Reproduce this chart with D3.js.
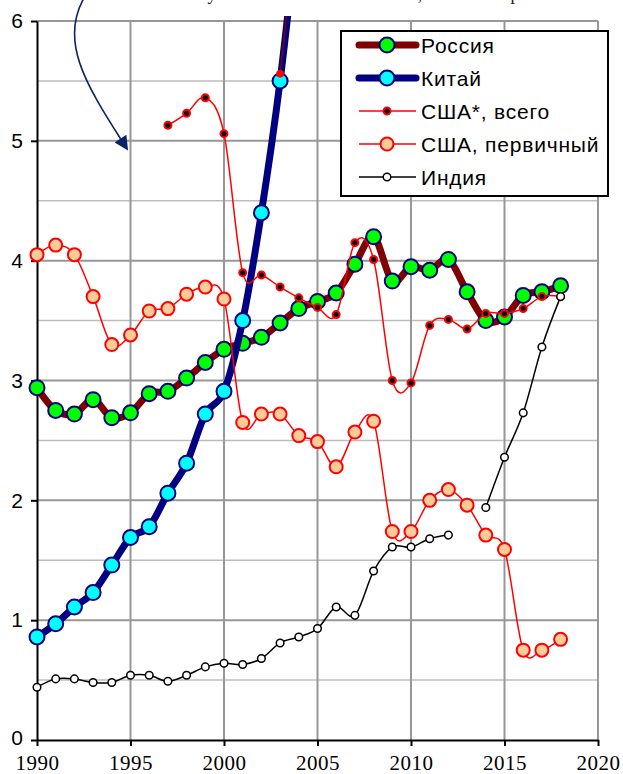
<!DOCTYPE html>
<html>
<head>
<meta charset="utf-8">
<script src="https://cdn.jsdelivr.net/npm/d3@7"></script>
<style>
  body { margin: 0; background: #fff; }
  svg { display: block; }
</style>
</head>
<body>
<svg></svg>
<script>
// years on the category axis
var years = [1990, 1991, 1992, 1993, 1994, 1995, 1996, 1997, 1998, 1999,
             2000, 2001, 2002, 2003, 2004, 2005, 2006, 2007, 2008, 2009,
             2010, 2011, 2012, 2013, 2014, 2015, 2016, 2017, 2018];

var russia = [2.94, 2.75, 2.72, 2.84, 2.69, 2.73, 2.89, 2.91, 3.02, 3.15,
              3.26, 3.31, 3.36, 3.48, 3.60, 3.66, 3.73, 3.97, 4.20, 3.83,
              3.95, 3.92, 4.01, 3.74, 3.50, 3.53, 3.71, 3.74, 3.79];

// China runs off the top of the chart after 2003
var china = [0.86, 0.97, 1.11, 1.23, 1.46, 1.69, 1.78, 2.06, 2.31, 2.72,
             2.91, 3.50, 4.40, 5.50, 6.90, null, null, null, null, null,
             null, null, null, null, null, null, null, null, null];

var chinaOld = [null, null, null, null, null, null, null, null, null, null,
                null, null, null, 5.56, 6.95, null, null, null, null, null,
                null, null, null, null, null, null, null, null, null];

var usaTotal = [null, null, null, null, null, null, null, 5.13, 5.23, 5.36,
                5.06, 3.90, 3.88, 3.78, 3.69, 3.61, 3.55, 4.15, 4.01, 3.00,
                2.98, 3.46, 3.51, 3.43, 3.56, 3.56, 3.60, 3.70, 3.70];

var usaPrimary = [4.05, 4.13, 4.05, 3.70, 3.30, 3.38, 3.58, 3.60, 3.72, 3.78,
                  3.68, 2.65, 2.72, 2.72, 2.54, 2.49, 2.28, 2.57, 2.66, 1.74,
                  1.74, 2.00, 2.09, 1.96, 1.71, 1.59, 0.75, 0.75, 0.84];

var india = [0.44, 0.51, 0.51, 0.48, 0.48, 0.54, 0.54, 0.49, 0.54, 0.61,
             0.64, 0.63, 0.68, 0.81, 0.86, 0.93, 1.11, 1.04, 1.41, 1.61,
             1.61, 1.68, 1.71, null, 1.94, 2.36, 2.73, 3.28, 3.70];

var xTicks = [1990, 1995, 2000, 2005, 2010, 2015, 2020];
var yTicks = [0, 1, 2, 3, 4, 5, 6];
var yMinor = [0.5, 1.5, 2.5, 3.5, 4.5, 5.5];

var legendNames = ["Россия", "Китай", "США*, всего", "США, первичный", "Индия"];

var width = 623, height = 774;
var padLeft = 37, padRight = 598, padTop = 21, padBottom = 740;

var svg = d3.select("svg")
    .attr("width", width)
    .attr("height", height);

var xScale = d3.scaleLinear().domain([1990, 2020]).range([padLeft, padRight]);
var yScale = d3.scaleLinear().domain([0, 6]).range([padBottom, padTop]);

// grid
svg.append("g").selectAll("line")
    .data(yMinor)
    .enter().append("line")
    .attr("x1", padLeft).attr("x2", padRight)
    .attr("y1", d => yScale(d)).attr("y2", d => yScale(d))
    .attr("stroke", "#bcbcbc").attr("stroke-width", 1.5);

svg.append("g").selectAll("line")
    .data(yTicks.slice(1))
    .enter().append("line")
    .attr("x1", padLeft).attr("x2", padRight)
    .attr("y1", d => yScale(d)).attr("y2", d => yScale(d))
    .attr("stroke", "#979797").attr("stroke-width", 2);

svg.append("g").selectAll("line")
    .data(xTicks.slice(1))
    .enter().append("line")
    .attr("x1", d => xScale(d)).attr("x2", d => xScale(d))
    .attr("y1", padTop).attr("y2", padBottom)
    .attr("stroke", "#979797").attr("stroke-width", 2);

// axes
var xAxis = d3.axisBottom(xScale).tickValues(xTicks).tickFormat(d3.format("d"))
    .tickSizeInner(6).tickSizeOuter(0).tickPadding(9);
var gx = svg.append("g")
    .attr("transform", `translate(0,${padBottom})`)
    .call(xAxis);
gx.select(".domain").attr("stroke", "#000").attr("stroke-width", 2);
gx.selectAll(".tick line").attr("stroke", "#000").attr("stroke-width", 2);
gx.selectAll("text")
    .style("font-family", '"Liberation Serif", "Times New Roman", serif')
    .style("font-size", "21px")
    .style("letter-spacing", "0.5px")
    .attr("fill", "#000");

var yAxis = d3.axisLeft(yScale).tickValues(yTicks).tickFormat(d3.format("d"))
    .tickSizeInner(6).tickSizeOuter(0).tickPadding(8);
var gy = svg.append("g")
    .attr("transform", `translate(${padLeft},0)`)
    .call(yAxis);
gy.select(".domain").attr("stroke", "#000").attr("stroke-width", 2);
gy.selectAll(".tick line").attr("stroke", "#000").attr("stroke-width", 2);
gy.selectAll("text")
    .style("font-family", '"Liberation Sans", Arial, sans-serif')
    .style("font-size", "21px")
    .attr("fill", "#000");
// lift the zero label a little so it clears the year labels
gy.selectAll(".tick").filter(d => d === 0).select("text").attr("dy", "0.2em");

// clip for the lines that leave the plot
svg.append("clipPath").attr("id", "plot")
  .append("rect")
    .attr("x", padLeft - 10).attr("y", padTop - 5)
    .attr("width", padRight - padLeft + 20).attr("height", padBottom - padTop + 15);

var series = [
    {values: russia, line: "#800000", lw: 7, fill: "#00ff00", stroke: "#000080", sw: 2, r: 7.5},
    {values: china, line: "#000080", lw: 7, fill: "#00ffff", stroke: "#000080", sw: 2, r: 7.5},
    {values: chinaOld, line: "#800000", lw: 1.5, fill: "#ff0000", stroke: "#ff0000", sw: 1, r: 3.5},
    {values: usaTotal, line: "#ff0000", lw: 1.5, fill: "#000", stroke: "#ff0000", sw: 2, r: 3.5},
    {values: usaPrimary, line: "#ff0000", lw: 1.5, fill: "#ffcc99", stroke: "#ff0000", sw: 2, r: 6.5},
    {values: india, line: "#000000", lw: 1.5, fill: "#fff", stroke: "#000", sw: 1.5, r: 3.8}
];

var line = d3.line()
    .defined(d => d.v != null)
    .x(d => xScale(d.year))
    .y(d => yScale(d.v))
    .curve(d3.curveCatmullRom.alpha(0));

var plot = svg.append("g").attr("clip-path", "url(#plot)");

series.forEach(function(s) {
    var pts = years.map((y, i) => ({year: y, v: s.values[i]}));
    plot.append("path")
        .datum(pts)
        .attr("d", line)
        .attr("fill", "none")
        .attr("stroke", s.line)
        .attr("stroke-width", s.lw)
        .attr("stroke-linejoin", "round");
    plot.selectAll(null)
        .data(pts.filter(d => d.v != null && d.v <= 6))
        .enter().append("circle")
        .attr("cx", d => xScale(d.year))
        .attr("cy", d => yScale(d.v))
        .attr("r", s.r)
        .attr("fill", s.fill)
        .attr("stroke", s.stroke)
        .attr("stroke-width", s.sw);
});

// legend
var legendSeries = [series[0], series[1], series[3], series[4], series[5]];
svg.append("rect")
    .attr("x", 341).attr("y", 31)
    .attr("width", 267).attr("height", 165)
    .attr("fill", "#fff").attr("stroke", "#000").attr("stroke-width", 2);

var lg = svg.append("g").selectAll("g")
    .data(legendNames)
    .enter().append("g")
    .attr("transform", (d, i) => `translate(0,${45 + i * 33})`);
lg.append("line")
    .attr("x1", 359).attr("x2", 416)
    .attr("stroke", (d, i) => legendSeries[i].line)
    .attr("stroke-width", (d, i) => legendSeries[i].lw)
    .attr("stroke-linecap", (d, i) => legendSeries[i].lw > 3 ? "round" : "butt");
lg.append("circle")
    .attr("cx", 387)
    .attr("r", (d, i) => legendSeries[i].r)
    .attr("fill", (d, i) => legendSeries[i].fill)
    .attr("stroke", (d, i) => legendSeries[i].stroke)
    .attr("stroke-width", (d, i) => legendSeries[i].sw);
lg.append("text")
    .attr("x", 421).attr("dy", "0.36em")
    .style("font-family", '"Liberation Sans", Arial, sans-serif')
    .style("font-size", "21px")
    .style("letter-spacing", "0.8px")
    .text(d => d);

// curved arrow pointing at the chart
var defs = svg.append("defs");
defs.append("marker")
    .attr("id", "head")
    .attr("viewBox", "0 0 10 10")
    .attr("refX", 2).attr("refY", 5)
    .attr("markerWidth", 16).attr("markerHeight", 14)
    .attr("markerUnits", "userSpaceOnUse")
    .attr("orient", "auto")
  .append("path")
    .attr("d", "M0,0 L10,5 L0,10 Z")
    .attr("fill", "#0b2466");
svg.append("path")
    .attr("d", "M84,-2 C60,40 84,82 122,141")
    .attr("fill", "none")
    .attr("stroke", "#0b2466")
    .attr("stroke-width", 1.6)
    .attr("marker-end", "url(#head)");

// bottom of the caption that sits above the picture
var cap = svg.append("g")
    .style("font-family", '"Liberation Serif", "Times New Roman", serif')
    .style("font-size", "18px")
    .attr("fill", "#222");
cap.append("text").attr("x", 212).attr("y", 0).attr("text-anchor", "middle").text("у");
cap.append("text").attr("x", 420).attr("y", 0).attr("text-anchor", "middle").text(",");
cap.append("text").attr("x", 515).attr("y", 0).attr("text-anchor", "middle").text("р");
</script>
</body>
</html>
